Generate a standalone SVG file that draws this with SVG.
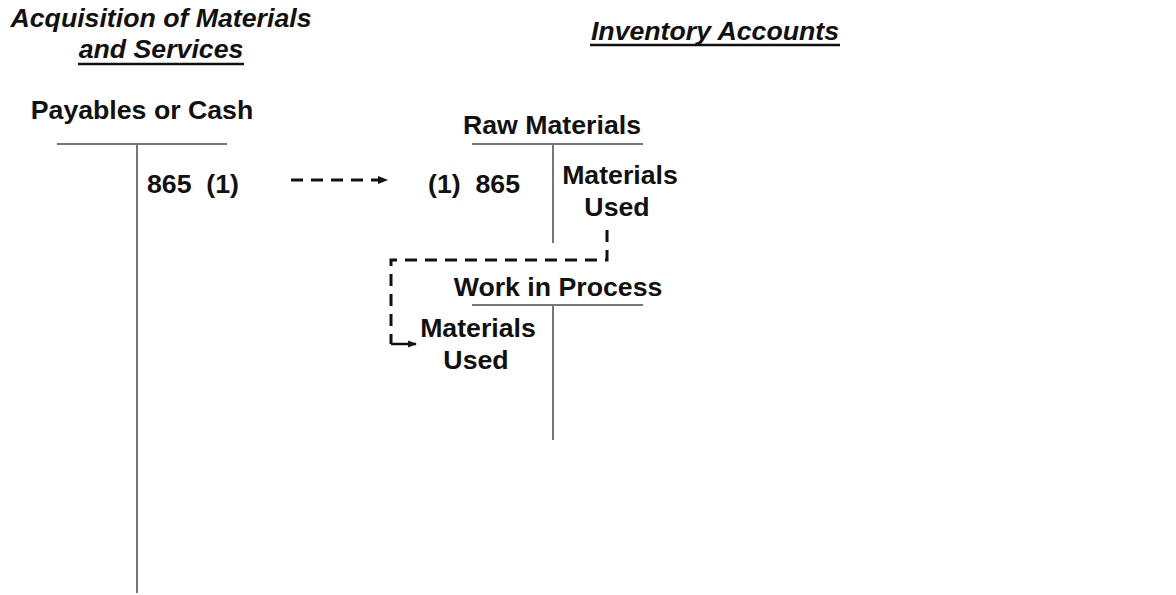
<svg xmlns="http://www.w3.org/2000/svg" width="1176" height="595" viewBox="0 0 1176 595">
<defs>
<style>
text{font-family:"Liberation Sans",Arial,sans-serif;font-weight:bold;font-size:26.7px;fill:#111;white-space:pre}
.ti{font-style:italic}
.tl{stroke:#777;stroke-width:2;fill:none}
.ul{stroke:#111;stroke-width:2.5}
.dash{stroke:#111;stroke-width:3;fill:none;stroke-dasharray:12 8}
</style>
<marker id="ah" viewBox="0 0 10 10" refX="9" refY="5" markerWidth="3.5" markerHeight="3.5" orient="auto" markerUnits="strokeWidth">
<path d="M0,1 L10,5 L0,9 z" fill="#111"/>
</marker>
</defs>
<rect width="1176" height="595" fill="#fff"/>
<g id="title-acq">
<text class="ti" x="161" y="27" text-anchor="middle">Acquisition of Materials</text>
<text class="ti" x="161" y="58" text-anchor="middle">and Services</text>
<line class="ul" x1="78" y1="64" x2="244" y2="64"/>
</g>
<g id="title-inv">
<text class="ti" x="715" y="40" text-anchor="middle">Inventory Accounts</text>
<line class="ul" x1="590" y1="45" x2="840" y2="45"/>
</g>
<g id="payables">
<text x="142" y="119" text-anchor="middle">Payables or Cash</text>
<path class="tl" d="M57,144 H227 M137,144 V593"/>
<text x="147" y="193" xml:space="preserve">865  (1)</text>
</g>
<g id="raw-materials">
<text x="552" y="134" text-anchor="middle">Raw Materials</text>
<path class="tl" d="M472,144 H643 M553,144 V243"/>
<text x="428" y="193" xml:space="preserve">(1)  865</text>
<text x="620" y="184" text-anchor="middle">Materials</text>
<text x="617" y="216" text-anchor="middle">Used</text>
</g>
<g id="wip">
<text x="558" y="296" text-anchor="middle">Work in Process</text>
<path class="tl" d="M472,305 H643 M553,305 V440"/>
<text x="478" y="337" text-anchor="middle">Materials</text>
<text x="476" y="369" text-anchor="middle">Used</text>
</g>
<g id="connectors">
<line class="dash" x1="291" y1="180" x2="387" y2="180" marker-end="url(#ah)"/>
<path class="dash" d="M607,230 V260 H391 V344"/>
<line x1="391" y1="344" x2="416" y2="344" stroke="#111" stroke-width="2.5" marker-end="url(#ah)"/>
</g>
</svg>
